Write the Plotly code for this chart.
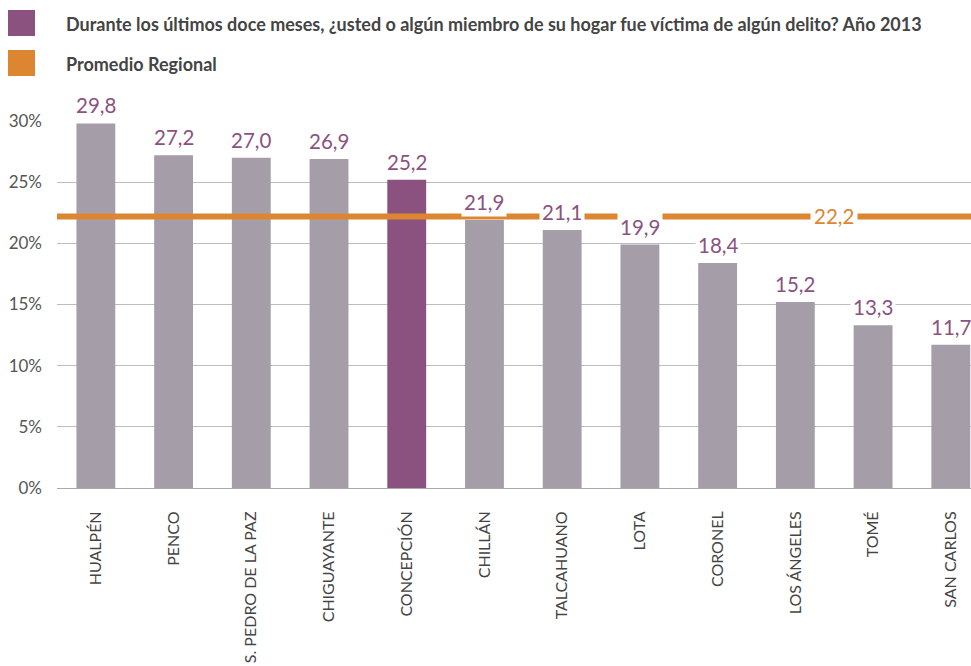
import plotly.graph_objects as go

categories = ["HUALPÉN", "PENCO", "S. PEDRO DE LA PAZ", "CHIGUAYANTE", "CONCEPCIÓN",
              "CHILLÁN", "TALCAHUANO", "LOTA", "CORONEL", "LOS ÁNGELES", "TOMÉ", "SAN CARLOS"]
values = [29.8, 27.2, 27.0, 26.9, 25.2, 21.9, 21.1, 19.9, 18.4, 15.2, 13.3, 11.7]
highlight = "CONCEPCIÓN"
promedio_regional = 22.2
y_ticks = [0, 5, 10, 15, 20, 25, 30]
y_tick_labels = ["0%", "5%", "10%", "15%", "20%", "25%", "30%"]
legend_labels = ["Durante los últimos doce meses, ¿usted o algún miembro de su hogar fue víctima de algún delito? Año 2013",
                 "Promedio Regional"]

PURPLE = "#8b527f"
GREY = "#a59ea8"
ORANGE = "#dd8632"
FONT = "Source Sans Pro, Lato, Noto Sans, sans-serif"

colors = [PURPLE if c == highlight else GREY for c in categories]

fig = go.Figure()
fig.add_trace(go.Bar(x=categories, y=values, marker=dict(color=colors, line=dict(width=0)),
                     width=0.5, showlegend=False, hoverinfo="x+y"))

# regional average line
fig.add_shape(type="line", xref="paper", x0=0, x1=1, yref="y", y0=promedio_regional, y1=promedio_regional,
              line=dict(color=ORANGE, width=6), layer="above")

fmt = lambda v: f"{v:.1f}".replace(".", ",")

for c, v in zip(categories, values):
    fig.add_annotation(x=c, y=v, text=fmt(v), showarrow=False, yanchor="bottom", yshift=3,
                       font=dict(family=FONT, size=20.5, color=PURPLE), bgcolor="white",
                       borderpad=2)

fig.add_annotation(x=9.5, y=promedio_regional, text=fmt(promedio_regional), showarrow=False,
                   yanchor="middle", font=dict(family=FONT, size=20.5, color=ORANGE),
                   bgcolor="white", borderpad=3)

L, T, B = 57, 121, 178
W, H = 971, 666
PH = H - T - B
PW = W - L
for i, (lab, col) in enumerate(zip(legend_labels, [PURPLE, ORANGE])):
    top = 10 + i * 40
    fig.add_shape(type="rect", xref="paper", yref="paper",
                  x0=(8 - L) / PW, x1=(8 - L + 27) / PW,
                  y0=1 + (T - top) / PH, y1=1 + (T - top - 26) / PH,
                  fillcolor=col, line=dict(width=0))
    fig.add_annotation(xref="paper", yref="paper", x=(64 - L) / PW, y=1 + (T - top - 14) / PH,
                       text=f"<b>{lab}</b>", showarrow=False, xanchor="left", yanchor="middle",
                       font=dict(family=FONT, size=18, color="#444444"))

fig.update_layout(
    width=W, height=H,
    margin=dict(l=L, r=0, t=T, b=B, autoexpand=False),
    plot_bgcolor="white", paper_bgcolor="white",
    bargap=0.5,
    font=dict(family=FONT, color="#444444"),
)
fig.update_yaxes(range=[0, 30], tickvals=y_ticks, ticktext=y_tick_labels, showgrid=True,
                 gridcolor="#bdbdbd", gridwidth=1, zeroline=False, automargin=False,
                 tickfont=dict(family=FONT, size=17, color="#555555"), ticklabelstandoff=14,
                 showline=False)
# the right-most category sits near the edge, as in the reference
fig.update_xaxes(range=[-0.5, len(categories) - 0.74], tickangle=-90,
                 tickfont=dict(family=FONT, size=16, color="#444444"),
                 showline=True, linecolor="#aaaaaa", linewidth=1, ticklabelstandoff=16,
                 ticks="", automargin=False)

fig.write_html("out.html", config={"displayModeBar": False},
               post_script="document.documentElement.style.margin='0';document.body.style.margin='0';"
                           "document.body.style.overflow='hidden';")
